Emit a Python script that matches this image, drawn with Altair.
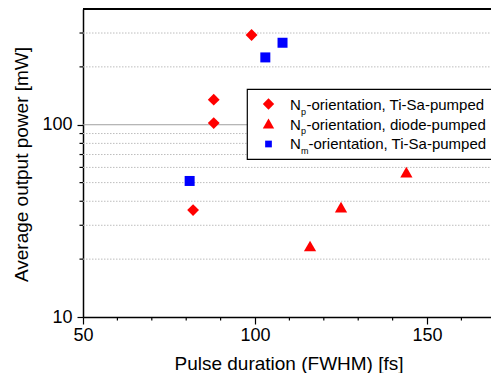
import altair as alt
import pandas as pd

# ---- data ----
diamond_x = [82, 88, 88, 99]
diamond_y = [36, 135, 102, 293]
triangle_x = [116, 125, 144]
triangle_y = [23.4, 37.3, 56.7]
square_x = [81, 103, 108]
square_y = [51, 224, 267]

x_major = [50, 100, 150]
x_minor = [60, 70, 80, 90, 110, 120, 130, 140, 160]
y_major = [10, 100]
y_minor = [20, 30, 40, 50, 60, 70, 80, 90, 200, 300]

legend_main = ["N", "N", "N"]
legend_sub = ["p", "p", "m"]
legend_rest = ["-orientation, Ti-Sa-pumped",
               "-orientation, diode-pumped",
               "-orientation, Ti-Sa-pumped"]

x_title = "Pulse duration (FWHM) [fs]"
y_title = "Average output power [mW]"

# ---- layout / style ----
W, H = 408, 308
FONT = "Liberation Sans"
RED = "#ff0000"
BLUE = "#0000ff"

xs = alt.Scale(domain=[50, 168.6], nice=False, zero=False)
ys = alt.Scale(type="log", domain=[10, 400], nice=False)

dummy = pd.DataFrame({"d": [0]})

df_d = pd.DataFrame({"x": diamond_x, "y": diamond_y})
df_t = pd.DataFrame({"x": triangle_x, "y": triangle_y})
df_s = pd.DataFrame({"x": square_x, "y": square_y})
df_ymin = pd.DataFrame({"y": y_minor})
df_ymaj = pd.DataFrame({"y": [100]})
df_xmin = pd.DataFrame({"x": x_minor})

x_axis = alt.Axis(values=x_major, title=x_title, tickSize=7, labelPadding=2,
                  domainColor="black", domainWidth=1.5, tickColor="black",
                  tickWidth=1.2, labelFont=FONT, labelFontSize=18,
                  labelColor="black", titleFont=FONT, titleFontSize=19,
                  titleFontWeight="normal", titleColor="black",
                  titleX=205.5, titleY=52, titleBaseline="alphabetic",
                  titleAlign="center", grid=False, labelFlush=False)
y_axis = alt.Axis(values=y_major, title=y_title, format="d", tickSize=6,
                  labelPadding=5, domainColor="black", domainWidth=1.5,
                  tickColor="black", tickWidth=1.2, labelFont=FONT,
                  labelFontSize=18, labelColor="black", titleFont=FONT,
                  titleFontSize=19, titleFontWeight="normal",
                  titleColor="black", titleAngle=-90, titleX=-56, titleY=155,
                  titleBaseline="alphabetic", titleAlign="center",
                  grid=False, labelFlush=False)

X = alt.X("x:Q", scale=xs, axis=x_axis, title=x_title)
Y = alt.Y("y:Q", scale=ys, axis=y_axis, title=y_title)

grid_minor = alt.Chart(df_ymin).mark_rule(
    color="#bdbdbd", strokeWidth=1, strokeDash=[1.5, 1.5]
).encode(y=Y, x=alt.value(0), x2=alt.value(W))

grid_major = alt.Chart(df_ymaj).mark_rule(
    color="#a0a0a0", strokeWidth=1
).encode(y=Y, x=alt.value(0), x2=alt.value(W))

x_minor_ticks = alt.Chart(df_xmin).mark_rule(color="black", strokeWidth=1.2).encode(
    x=X, y=alt.value(H), y2=alt.value(H + 3.5))

y_minor_ticks = alt.Chart(df_ymin).mark_rule(color="black", strokeWidth=1.2).encode(
    y=Y, x=alt.value(-3.5), x2=alt.value(0))

top_border = alt.Chart(dummy).mark_rule(color="black", strokeWidth=2).encode(
    x=alt.value(0), x2=alt.value(W), y=alt.value(0))

diamonds = alt.Chart(df_d).mark_point(
    shape="diamond", filled=True, size=140, color=RED, opacity=1, strokeWidth=0
).encode(x=X, y=Y)

triangles = alt.Chart(df_t).mark_point(
    shape="triangle-up", filled=True, size=150, color=RED, opacity=1, strokeWidth=0
).encode(x=X, y=Y)

squares = alt.Chart(df_s).mark_point(
    shape="square", filled=True, size=100, color=BLUE, opacity=1, strokeWidth=0
).encode(x=X, y=Y)

# ---- custom legend (subscripts need separate text) ----
legend_box = alt.Chart(dummy).mark_rect(
    fill="white", stroke="black", strokeWidth=1.2
).encode(x=alt.value(164.3), x2=alt.value(W + 20), y=alt.value(80.3), y2=alt.value(150.3))

legend_layers = [legend_box]
sym_specs = [("diamond", RED, 130), ("triangle-up", RED, 130), ("square", BLUE, 45)]
sym_y = [95, 114.5, 135]
base_y = [101, 120.7, 140.3]
rest_x = [223.5, 223.5, 225.5]
for i in range(3):
    shape, col, size = sym_specs[i]
    legend_layers.append(alt.Chart(dummy).mark_point(
        shape=shape, filled=True, size=size, color=col, opacity=1, strokeWidth=0
    ).encode(x=alt.value(185.5), y=alt.value(sym_y[i])))
    legend_layers.append(alt.Chart(dummy).mark_text(
        align="left", baseline="alphabetic", font=FONT, fontSize=15, color="black"
    ).encode(x=alt.value(207), y=alt.value(base_y[i]), text=alt.value(legend_main[i])))
    legend_layers.append(alt.Chart(dummy).mark_text(
        align="left", baseline="alphabetic", font=FONT, fontSize=9, color="black"
    ).encode(x=alt.value(218), y=alt.value(base_y[i] + 4.5), text=alt.value(legend_sub[i])))
    legend_layers.append(alt.Chart(dummy).mark_text(
        align="left", baseline="alphabetic", font=FONT, fontSize=15, color="black"
    ).encode(x=alt.value(rest_x[i]), y=alt.value(base_y[i]), text=alt.value(legend_rest[i])))

chart = alt.layer(
    grid_minor, grid_major, diamonds, triangles, squares,
    *legend_layers, x_minor_ticks, y_minor_ticks, top_border
).properties(
    width=W, height=H,
    autosize=alt.AutoSizeParams(type="none"),
    padding={"left": 83, "top": 9, "right": 0, "bottom": 56},
    background="white",
).configure_view(stroke=None)

chart.save("out.html", embed_options={"renderer": "svg", "actions": False})
